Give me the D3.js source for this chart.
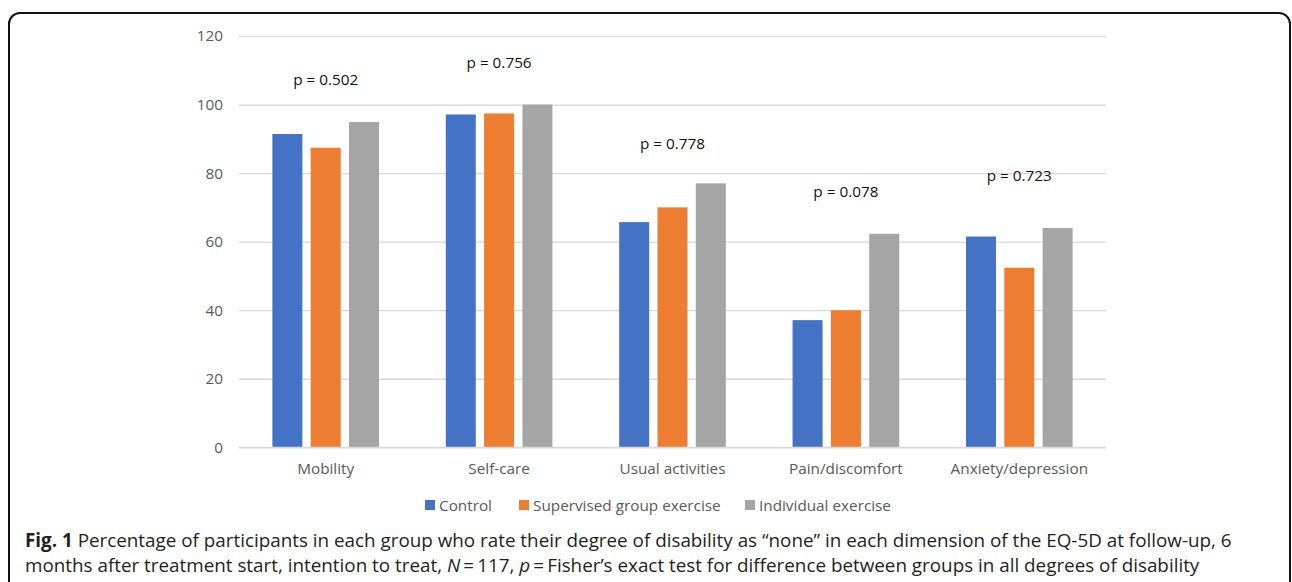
<!DOCTYPE html>
<html>
<head>
<meta charset="utf-8">
<script src="https://cdn.jsdelivr.net/npm/d3@7"></script>
<style>
  html, body { margin: 0; padding: 0; background: #fff; }
  svg { display: block; }
</style>
</head>
<body>
<svg id="chart" width="1292" height="582"></svg>
<script>
// EQ-5D dimensions and the share (%) rating "none" per group
const categories = ["Mobility", "Self-care", "Usual activities", "Pain/discomfort", "Anxiety/depression"];
const seriesNames = ["Control", "Supervised group exercise", "Individual exercise"];
const control = [91.4, 97.1, 65.7, 37.1, 61.5];
const supervised = [87.4, 97.4, 70.0, 40.0, 52.4];
const individual = [94.9, 100, 77.0, 62.3, 64.0];
const seriesColors = ["#4472C4", "#ED7D31", "#A5A5A5"];
const yTicks = [0, 20, 40, 60, 80, 100, 120];
// Fisher's exact test p-values and the level (axis units) each note sits at
const pValues = ["p = 0.502", "p = 0.756", "p = 0.778", "p = 0.078", "p = 0.723"];
const pLabelLevel = [107.4, 112.3, 88.8, 74.8, 79.3];
const captionLines = [
  [{b: true, t: "Fig. 1"}, {t: " Percentage of participants in each group who rate their degree of disability as \u201cnone\u201d in each dimension of the EQ-5D at follow-up, 6"}],
  [{t: "months after treatment start, intention to treat, "}, {i: true, t: "N"}, {t: "\u2009=\u2009117, "}, {i: true, t: "p"}, {t: "\u2009=\u2009Fisher\u2019s exact test for difference between groups in all degrees of disability"}]
];

const seriesData = [control, supervised, individual];
const svg = d3.select("#chart");
const chartFont = "'Open Sans', 'Noto Sans', sans-serif";
const chartSize = "15.3px";

// outer figure frame
svg.append("rect")
  .attr("x", 9).attr("y", 13)
  .attr("width", 1281).attr("height", 620)
  .attr("rx", 11).attr("ry", 11)
  .attr("fill", "none").attr("stroke", "#111").attr("stroke-width", 2);

const plot = {left: 239, right: 1106, top: 36, bottom: 447.3};

const x = d3.scaleBand().domain(categories).range([plot.left, plot.right]).paddingInner(0).paddingOuter(0);
const groupPad = x.bandwidth() * 0.1925;
const xSub = d3.scaleBand().domain(seriesNames)
  .range([groupPad, x.bandwidth() - groupPad]).paddingInner(0.217).paddingOuter(0);
const y = d3.scaleLinear().domain([0, 120]).range([plot.bottom, plot.top]);

// gridlines
const grid = svg.append("g")
  .attr("transform", `translate(${plot.left},0)`)
  .call(d3.axisLeft(y).tickValues(yTicks).tickSize(-(plot.right - plot.left)).tickFormat(""));
grid.select(".domain").remove();
grid.selectAll("line").attr("stroke", "#d9d9d9").attr("stroke-width", 1.3);

// y tick labels
const yAxis = svg.append("g")
  .attr("transform", `translate(${plot.left},0)`)
  .call(d3.axisLeft(y).tickValues(yTicks).tickSize(0).tickPadding(16));
yAxis.select(".domain").remove();
yAxis.selectAll("text").attr("fill", "#595959").style("font-family", chartFont).style("font-size", chartSize);

// bars
const rows = categories.map((c, i) => ({cat: c, vals: seriesNames.map((s, j) => ({s, j, v: seriesData[j][i]}))}));
const groups = svg.append("g").selectAll("g").data(rows).join("g")
  .attr("transform", d => `translate(${x(d.cat)},0)`);
groups.selectAll("rect").data(d => d.vals).join("rect")
  .attr("x", d => xSub(d.s))
  .attr("width", xSub.bandwidth())
  .attr("y", d => y(d.v))
  .attr("height", d => y(0) - y(d.v))
  .attr("fill", d => seriesColors[d.j]);

// baseline
svg.append("line")
  .attr("x1", plot.left).attr("x2", plot.right)
  .attr("y1", y(0)).attr("y2", y(0))
  .attr("stroke", "#d9d9d9").attr("stroke-width", 1.3);

// x axis labels
const xAxis = svg.append("g")
  .attr("transform", `translate(0,${plot.bottom})`)
  .call(d3.axisBottom(x).tickSize(0).tickPadding(16));
xAxis.select(".domain").remove();
xAxis.selectAll("text").attr("fill", "#595959").style("font-family", chartFont).style("font-size", chartSize);

// p-value notes
svg.append("g").selectAll("text").data(categories).join("text")
  .attr("x", c => x(c) + x.bandwidth() / 2)
  .attr("y", (c, i) => y(pLabelLevel[i]))
  .attr("text-anchor", "middle")
  .attr("dominant-baseline", "central")
  .attr("fill", "#111")
  .style("font-family", chartFont).style("font-size", chartSize)
  .text((c, i) => pValues[i]);

// legend
const legendX = [425, 519, 745];
const legend = svg.append("g").selectAll("g").data(seriesNames).join("g")
  .attr("transform", (d, i) => `translate(${legendX[i]},505)`);
legend.append("rect").attr("x", 0).attr("y", -5).attr("width", 10).attr("height", 10)
  .attr("fill", (d, i) => seriesColors[i]);
legend.append("text").attr("x", 14).attr("y", 0).attr("dominant-baseline", "central")
  .attr("fill", "#595959").style("font-family", chartFont).style("font-size", chartSize)
  .text(d => d);

// caption
const captionFont = "'Open Sans', 'Noto Sans', sans-serif";
const cap = svg.append("g");
const capY = [540, 565];
captionLines.forEach((line, k) => {
  const t = cap.append("text").attr("x", 25).attr("y", capY[k])
    .attr("dominant-baseline", "central").attr("fill", "#231f20")
    .style("font-family", captionFont).style("font-size", "18px");
  line.forEach(seg => {
    t.append("tspan").text(seg.t)
      .attr("font-weight", seg.b ? 700 : 400)
      .attr("font-style", seg.i ? "italic" : "normal");
  });
});
// fit caption first line to its measured width
const first = cap.select("text").node();
const w = first.getComputedTextLength();
const fs = 18 * 1207 / w;
cap.selectAll("text").style("font-size", fs + "px");
</script>
</body>
</html>
